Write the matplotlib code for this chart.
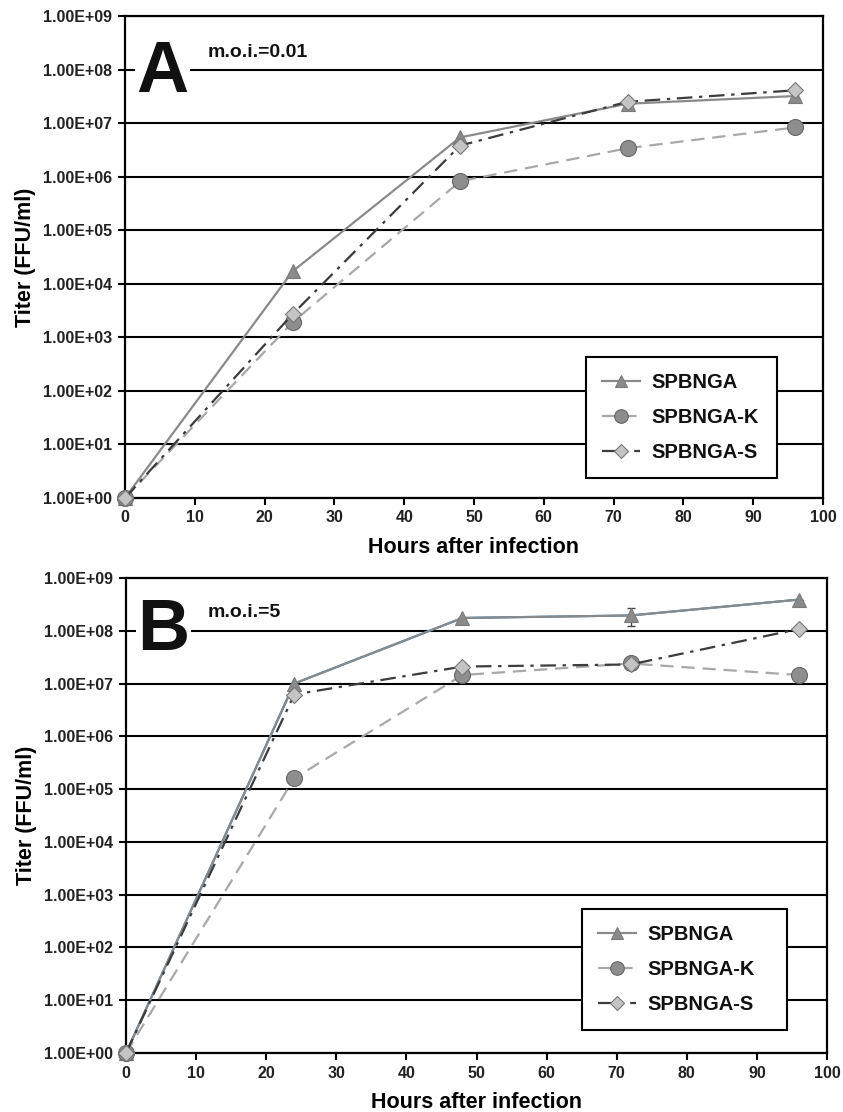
import matplotlib
matplotlib.use("Agg")
import matplotlib.pyplot as plt
from matplotlib.ticker import FixedLocator, NullLocator

plt.rcParams['font.family'] = ['Liberation Sans', 'DejaVu Sans']
plt.rcParams['font.weight'] = 'bold'

hours = [0, 24, 48, 72, 96]
series_names = ["SPBNGA", "SPBNGA-K", "SPBNGA-S"]

# Panel A (m.o.i.=0.01)
a_spbnga = [1, 1.7e4, 5.4e6, 2.3e7, 3.2e7]
a_spbnga_k = [1, 1.9e3, 8.2e5, 3.4e6, 8.3e6]
a_spbnga_s = [1, 2.7e3, 3.8e6, 2.5e7, 4.1e7]

# Panel B (m.o.i.=5)
b_spbnga = [1, 1.0e7, 1.75e8, 1.95e8, 3.9e8]
b_spbnga_err = [0, 0, 0, 7e7, 0]
b_spbnga_k = [1, 1.6e5, 1.45e7, 2.4e7, 1.45e7]
b_spbnga_s = [1, 6.2e6, 2.1e7, 2.3e7, 1.08e8]

ytick_vals = [1e0, 1e1, 1e2, 1e3, 1e4, 1e5, 1e6, 1e7, 1e8, 1e9]
ytick_labels = ["1.00E+00", "1.00E+01", "1.00E+02", "1.00E+03", "1.00E+04",
                "1.00E+05", "1.00E+06", "1.00E+07", "1.00E+08", "1.00E+09"]
xtick_vals = [0, 10, 20, 30, 40, 50, 60, 70, 80, 90, 100]

fig = plt.figure(figsize=(8.43, 11.12), dpi=100)
ax_a = fig.add_axes([125/843, (1112-498)/1112, 698/843, 482/1112])
ax_b = fig.add_axes([126/843, (1112-1053)/1112, 701/843, 475/1112])

styles = [
    dict(color='#8a8a8a', linestyle='-', lw=1.6, marker='^', ms=10,
         mfc='#8a8a8a', mec='#7a7a7a', mew=0.8),
    dict(color='#a8a8a8', linestyle=(0, (6, 3.5)), lw=1.6, marker='o', ms=11.5,
         mfc='#8e8e8e', mec='#666666', mew=0.8),
    dict(color='#3c3c3c', linestyle=(0, (7, 3, 1.5, 3)), lw=1.6, marker='D', ms=8.5,
         mfc='#c4c4c4', mec='#777777', mew=0.8),
]

def setup(ax, letter, moi, letter_pos, moi_pos, series, err=None):
    for i, (vals, name, st) in enumerate(zip(series, series_names, styles)):
        if i == 0 and err is not None:
            ax.errorbar(hours, vals, yerr=err, ecolor='#444444', elinewidth=1.0,
                        capsize=3, capthick=1.0, zorder=3)
        ax.plot(hours, vals, label=name, zorder=4 + i, clip_on=False, **st)
    ax.set_yscale('log')
    ax.set_ylim(1, 1e9)
    ax.set_xlim(0, 100)
    ax.yaxis.set_major_locator(FixedLocator(ytick_vals))
    ax.yaxis.set_minor_locator(NullLocator())
    ax.set_yticks(ytick_vals)
    ax.set_yticklabels(ytick_labels)
    ax.set_xticks(xtick_vals)
    ax.set_xticklabels([str(v) for v in xtick_vals])
    ax.grid(axis='y', color='black', lw=1.5, zorder=1)
    ax.set_axisbelow(True)
    for sp in ax.spines.values():
        sp.set_linewidth(1.6)
        sp.set_color('black')
    ax.tick_params(axis='both', direction='out', length=5, width=1.5,
                   labelsize=11.5, colors='black', pad=4)
    for lab in ax.get_xticklabels() + ax.get_yticklabels():
        lab.set_fontweight('bold')
        lab.set_color('#222222')
    ax.set_xlabel("Hours after infection", fontsize=15.5, fontweight='bold', labelpad=8)
    ax.set_ylabel("Titer (FFU/ml)", fontsize=15.5, fontweight='bold', labelpad=5)
    ax.text(letter_pos[0], letter_pos[1], letter, transform=ax.transAxes,
            fontsize=52, fontweight='heavy', ha='center', va='center', color='#111111',
            bbox=dict(facecolor='white', edgecolor='none', pad=1.0), zorder=6)
    ax.text(moi_pos[0], moi_pos[1], moi, transform=ax.transAxes,
            fontsize=14, fontweight='bold', ha='left', va='center', color='#111111')

setup(ax_a, "A", "m.o.i.=0.01", (0.054, 0.882), (0.119, 0.925),
      [a_spbnga, a_spbnga_k, a_spbnga_s])
setup(ax_b, "B", "m.o.i.=5", (0.053, 0.888), (0.116, 0.928),
      [b_spbnga, b_spbnga_k, b_spbnga_s], err=b_spbnga_err)

legend_boxes = [(ax_a, (0.6605, 0.041, 0.2736, 0.25)),
                (ax_b, (0.6505, 0.048, 0.2924, 0.25))]
for ax, anchor in legend_boxes:
    handles, labels = ax.get_legend_handles_labels()
    leg = ax.legend(handles[-3:], labels[-3:], loc='lower left', bbox_to_anchor=anchor,
                    mode='expand', borderaxespad=0, fontsize=14.5, frameon=True,
                    fancybox=False, edgecolor='black', facecolor='white', framealpha=1,
                    labelspacing=0.8, borderpad=0.8, handlelength=1.9,
                    handletextpad=0.55, markerscale=0.85)
    leg.get_frame().set_linewidth(1.5)
    leg.set_zorder(10)
    for t in leg.get_texts():
        t.set_fontweight('bold')
        t.set_color('#111111')

fig.savefig("out.png", dpi=100)
